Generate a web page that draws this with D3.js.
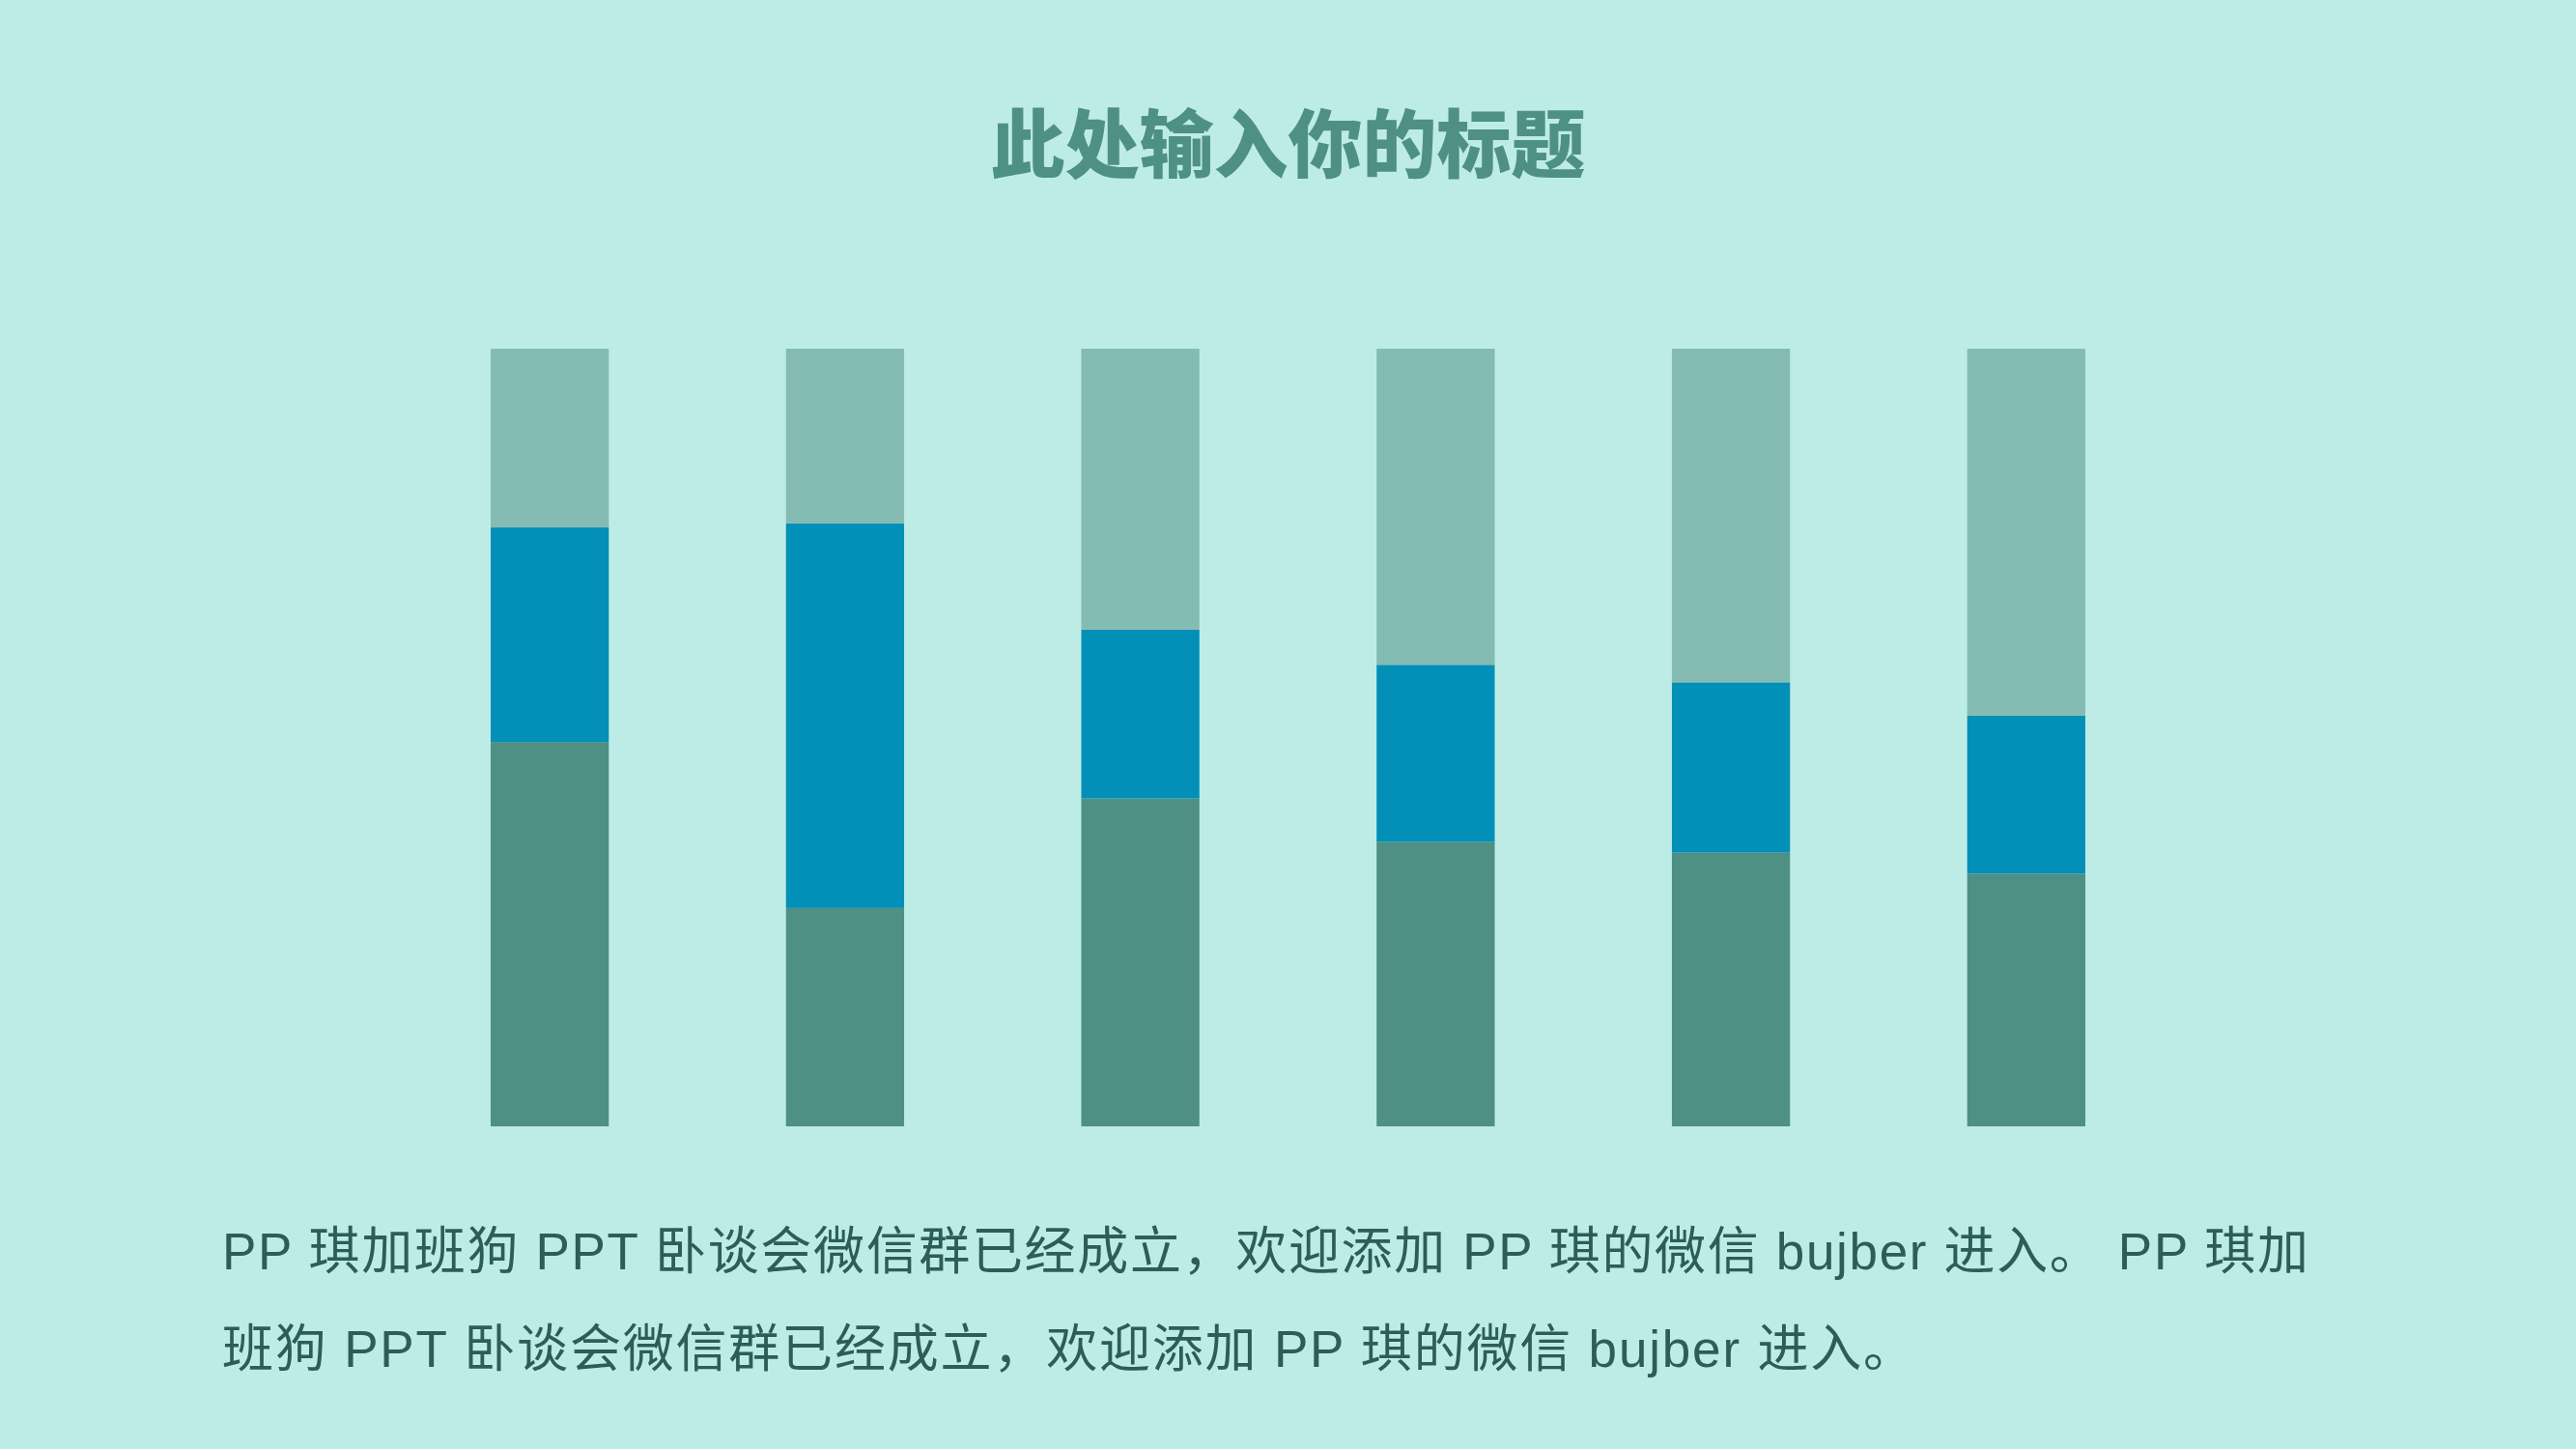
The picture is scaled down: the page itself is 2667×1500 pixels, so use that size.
<!DOCTYPE html>
<html>
<head>
<meta charset="utf-8">
<script src="https://cdn.jsdelivr.net/npm/d3@7"></script>
<style>
  html, body { margin: 0; padding: 0; background: #bdece6; }
  svg { display: block; }
</style>
</head>
<body>
<div id="chart"></div>
<script>
// 100% stacked columns, six categories, three series
const categories = ["类别1", "类别2", "类别3", "类别4", "类别5", "类别6"];
const series1 = [4.3, 2.5, 3.5, 4.5, 3.52, 3.25];
const series2 = [2.4, 4.4, 1.8, 2.8, 2.19, 2.03];
const series3 = [2.0, 2.0, 3.0, 5.0, 4.29, 4.72];
const seriesKeys = ["s1", "s2", "s3"];
const seriesColors = ["#4f9085", "#028fb8", "#84bbb3"];

const titleText = "此处输入你的标题";
const bodyLines = [
  "PP 琪加班狗 PPT 卧谈会微信群已经成立，欢迎添加 PP 琪的微信 bujber 进入。 PP 琪加",
  "班狗 PPT 卧谈会微信群已经成立，欢迎添加 PP 琪的微信 bujber 进入。"
];
const bodyWidths = [2160, 1752];

const W = 2667, H = 1500;
const rows = categories.map((c, i) => ({cat: c, s1: series1[i], s2: series2[i], s3: series3[i]}));

const svg = d3.select("#chart").append("svg").attr("width", W).attr("height", H);
svg.append("rect").attr("width", W).attr("height", H).attr("fill", "#bdece6");

// Title
svg.append("text")
  .attr("x", W / 2).attr("y", 178)
  .attr("text-anchor", "middle")
  .attr("font-family", "'Noto Sans CJK SC', sans-serif")
  .attr("font-weight", 900)
  .attr("font-size", "77px")
  .attr("fill", "#4f9085")
  .text(titleText);

// Scales
const x = d3.scaleBand().domain(categories).range([508, 2159]).paddingInner(0.6).paddingOuter(0);
const y = d3.scaleLinear().domain([0, 1]).range([1166, 361]);

const stacked = d3.stack().keys(seriesKeys).offset(d3.stackOffsetExpand)(rows);

const layer = svg.selectAll(".layer").data(stacked).enter().append("g")
  .attr("class", "layer")
  .attr("fill", (d, i) => seriesColors[i]);

layer.selectAll("rect").data(d => d).enter().append("rect")
  .attr("x", d => x(d.data.cat))
  .attr("width", x.bandwidth())
  .attr("y", d => y(d[1]))
  .attr("height", d => y(d[0]) - y(d[1]));

// Body text
svg.selectAll(".body-line").data(bodyLines).enter().append("text")
  .attr("class", "body-line")
  .attr("x", 230)
  .attr("y", (d, i) => 1314 + i * 101)
  .attr("font-family", "'Liberation Sans', 'Noto Sans CJK SC', sans-serif")
  .attr("font-size", "53px")
  .attr("fill", "#2c5e55")
  .attr("textLength", (d, i) => bodyWidths[i])
  .attr("lengthAdjust", "spacing")
  .text(d => d);
</script>
</body>
</html>
